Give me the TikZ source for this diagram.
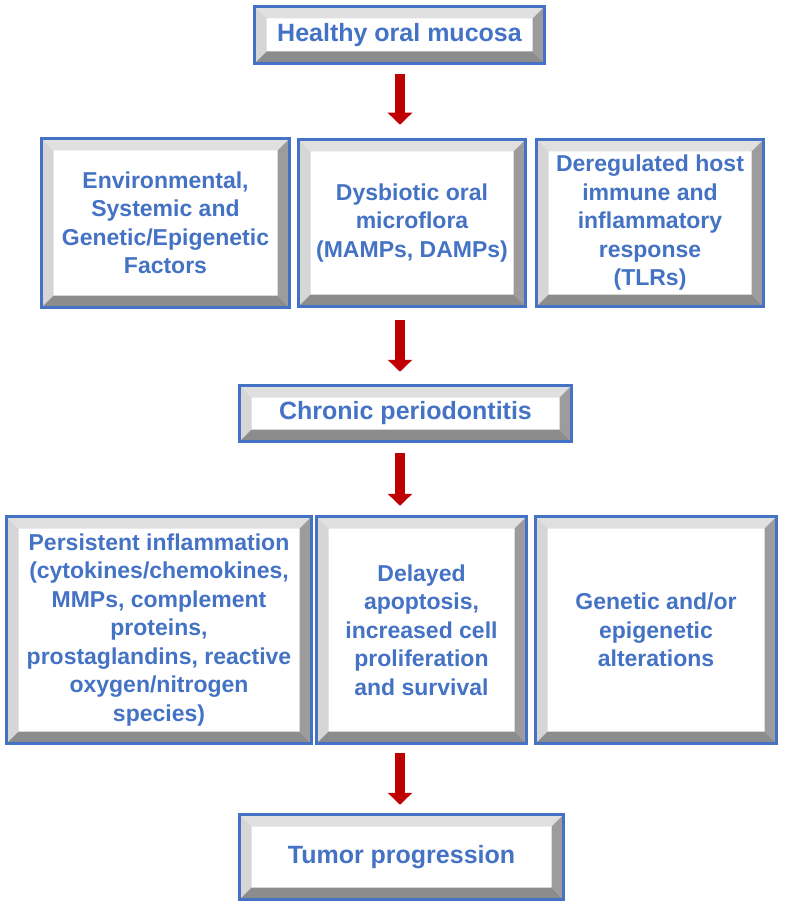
\documentclass[tikz,border=0pt]{standalone}
\usepackage{fontspec}
\setmainfont{Liberation Sans}
\usetikzlibrary{arrows.meta}

\definecolor{boxblue}{RGB}{68,114,196}
\definecolor{bevellight}{RGB}{224,224,224}
\definecolor{bevelleft}{RGB}{214,214,214}
\definecolor{bevelright}{RGB}{156,156,156}
\definecolor{beveldark}{RGB}{140,140,140}
\definecolor{arrowred}{RGB}{192,0,0}
\newcommand{\bv}{12pt}

\tikzset{
  bevelbox/.style={draw=boxblue, line width=3.5pt, fill=white, align=center,
    text=boxblue, inner sep=0pt, font=\bfseries\fontsize{23}{28.5}\selectfont,
    path picture={
      \coordinate (sw) at (path picture bounding box.south west);
      \coordinate (ne) at (path picture bounding box.north east);
      \coordinate (nw) at (sw |- ne);
      \coordinate (se) at (ne |- sw);
      \fill[bevellight] (nw) -- (ne) -- ([shift={(-\bv,-\bv)}]ne) -- ([shift={(\bv,-\bv)}]nw) -- cycle;
      \fill[bevelleft] (nw) -- ([shift={(\bv,-\bv)}]nw) -- ([shift={(\bv,\bv)}]sw) -- (sw) -- cycle;
      \fill[bevelright] (ne) -- (se) -- ([shift={(-\bv,\bv)}]se) -- ([shift={(-\bv,-\bv)}]ne) -- cycle;
      \fill[beveldark] (sw) -- (se) -- ([shift={(-\bv,\bv)}]se) -- ([shift={(\bv,\bv)}]sw) -- cycle;
    }},
  bigtext/.style={font=\bfseries\fontsize{25}{30}\selectfont},
  redarrow/.style={draw=arrowred, line width=10pt, -{Triangle[width=24pt,length=12pt]}}
}

\begin{document}
\begin{tikzpicture}[x=1pt, y=-1pt]
  \useasboundingbox (0,0) rectangle (784,909);

  \coordinate (axis) at (400,0);

  \node[bevelbox, bigtext, minimum width=290pt, minimum height=57pt] (healthy) at (399.5,35) {Healthy oral mucosa};

  \node[bevelbox, minimum width=248pt, minimum height=169pt] (env) at (165.5,223)
    {Environmental,\\ Systemic and\\ Genetic/Epigenetic\\ Factors};
  \node[bevelbox, minimum width=227pt, minimum height=167pt] (dysb) at (412,223)
    {Dysbiotic oral\\ microflora\\ (MAMPs, DAMPs)};
  \node[bevelbox, minimum width=227pt, minimum height=167pt] (dereg) at (650,223)
    {Deregulated host\\ immune and\\ inflammatory\\ response\\ (TLRs)};

  \node[bevelbox, bigtext, minimum width=332pt, minimum height=56pt] (chronic) at (405.5,413.5) {Chronic periodontitis};

  \node[bevelbox, minimum width=305pt, minimum height=227pt] (persist) at (159,630)
    {Persistent inflammation\\ (cytokines/chemokines,\\ MMPs, complement\\ proteins,\\ prostaglandins, reactive\\ oxygen/nitrogen\\ species)};
  \node[bevelbox, minimum width=210pt, minimum height=227pt] (delay) at (421.5,630)
    {Delayed\\ apoptosis,\\ increased cell\\ proliferation\\ and survival};
  \node[bevelbox, minimum width=241pt, minimum height=227pt] (genetic) at (656,630)
    {Genetic and/or\\ epigenetic\\ alterations};

  \node[bevelbox, bigtext, minimum width=324pt, minimum height=85pt] (tumor) at (401.5,857) {Tumor progression};

  % arrows down the middle
  \draw[redarrow, shorten <=9pt, shorten >=13pt] (axis |- healthy.south) -- (axis |- dysb.north);
  \draw[redarrow, shorten <=12pt, shorten >=12pt] (axis |- dysb.south) -- (axis |- chronic.north);
  \draw[redarrow, shorten <=10pt, shorten >=9pt] (axis |- chronic.south) -- (axis |- delay.north);
  \draw[redarrow, shorten <=8pt, shorten >=8pt] (axis |- delay.south) -- (axis |- tumor.north);
\end{tikzpicture}
\end{document}
